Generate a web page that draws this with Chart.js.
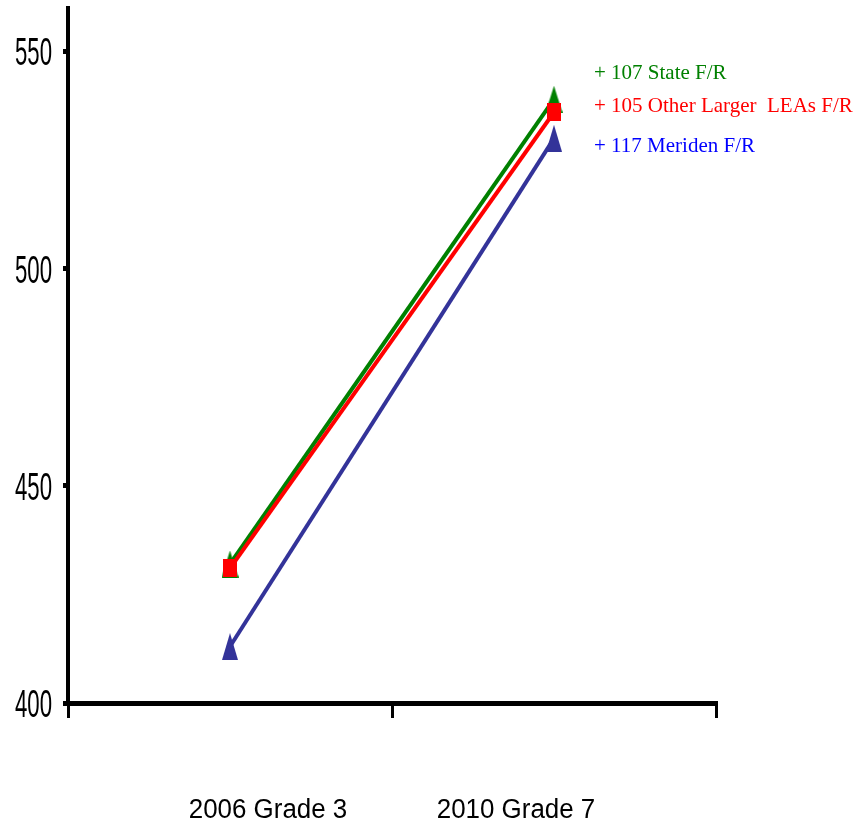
<!DOCTYPE html>
<html>
<head>
<meta charset="utf-8">
<script src="https://cdn.jsdelivr.net/npm/chart.js@4"></script>
<style>
  body { margin: 0; background: #fff; }
  #wrap { width: 857px; height: 824px; position: relative; }
</style>
</head>
<body>
<div id="wrap"><canvas id="chart"></canvas></div>
<script>
// data
var categories = ['2006 Grade 3', '2010 Grade 7'];
var stateFR = [432, 539];
var otherLEAsFR = [431, 536];
var meridenFR = [413, 530];
var yTickValues = [400, 450, 500, 550];
var notes = ['+ 107 State F/R', '+ 105 Other Larger  LEAs F/R', '+ 117 Meriden F/R'];

var GREEN = '#008000', RED = '#ff0000', NAVY = '#333399';

// marker images (the original uses tall triangles)
function makeTriangle(color, w, h) {
    var c = document.createElement('canvas');
    c.width = w; c.height = h;
    var g = c.getContext('2d');
    g.fillStyle = color;
    g.beginPath();
    g.moveTo(w / 2, 0);
    g.lineTo(w, h);
    g.lineTo(0, h);
    g.closePath();
    g.fill();
    return c;
}
function makeRect(color, w, h) {
    var c = document.createElement('canvas');
    c.width = w; c.height = h;
    var g = c.getContext('2d');
    g.fillStyle = color;
    g.fillRect(0, 0, w, h);
    return c;
}

// draws the condensed tick labels and the notes on the right
var labelPlugin = {
    id: 'labels',
    afterDraw: function(chart) {
        var ctx = chart.ctx;
        var xs = chart.scales.x, ys = chart.scales.y;
        ctx.save();
        ctx.fillStyle = '#000';
        ctx.textBaseline = 'alphabetic';

        // narrow digits: squeeze to the width seen in the original
        ctx.font = '38px "Liberation Sans Narrow", "Liberation Sans", Arial, sans-serif';
        ctx.textAlign = 'right';
        var sx = 37 / ctx.measureText('550').width;
        yTickValues.forEach(function(v) {
            var py = ys.getPixelForValue(v);
            ctx.save();
            ctx.translate(52, py + 14);
            ctx.scale(sx, 1);
            ctx.fillText(String(v), 0, 0);
            ctx.restore();
        });

        ctx.font = '27px "Liberation Sans", Arial, sans-serif';
        ctx.textAlign = 'center';
        var nudge = [38, -38];
        categories.forEach(function(c, i) {
            var px = xs.getPixelForValue(i) + nudge[i];
            ctx.save();
            ctx.translate(px, 818);
            ctx.scale(0.96, 1);
            ctx.fillText(c, 0, 0);
            ctx.restore();
        });

        ctx.font = '21px "Liberation Serif", "Times New Roman", serif';
        ctx.textAlign = 'left';
        var noteColors = [GREEN, RED, '#0000ff'];
        var noteBase = [79, 112, 152];
        var nx = xs.getPixelForValue(1) + 40;
        notes.forEach(function(t, i) {
            ctx.fillStyle = noteColors[i];
            ctx.fillText(t, nx, noteBase[i]);
        });
        ctx.restore();
    }
};

new Chart(document.getElementById('chart'), {
    type: 'line',
    data: {
        labels: categories,
        datasets: [
            {
                label: 'Meriden F/R',
                data: meridenFR,
                borderColor: NAVY,
                backgroundColor: NAVY,
                borderWidth: 4,
                pointStyle: makeTriangle(NAVY, 16, 27),
                clip: false
            },
            {
                label: 'Other Larger LEAs F/R',
                data: otherLEAsFR,
                borderColor: RED,
                backgroundColor: RED,
                borderWidth: 4,
                pointStyle: makeRect(RED, 14, 18),
                clip: false
            },
            {
                label: 'State F/R',
                data: stateFR,
                borderColor: GREEN,
                backgroundColor: GREEN,
                borderWidth: 4,
                pointStyle: makeTriangle(GREEN, 17, 27),
                clip: false
            }
        ]
    },
    options: {
        responsive: true,
        maintainAspectRatio: false,
        animation: false,
        layout: { padding: { top: 5, right: 141, left: 0, bottom: 0 } },
        plugins: { legend: { display: false }, tooltip: { enabled: false } },
        scales: {
            x: {
                offset: true,
                grid: {
                    offset: true,
                    drawOnChartArea: false,
                    tickLength: 15,
                    lineWidth: 3,
                    color: '#000'
                },
                border: { display: true, width: 5, color: '#000' },
                ticks: { display: false },
                afterFit: function(s) { s.height = 121; }
            },
            y: {
                min: 400,
                max: 560,
                ticks: { display: false, stepSize: 50 },
                afterBuildTicks: function(s) {
                    s.ticks = s.ticks.filter(function(t) { return t.value % 50 === 0; });
                },
                grid: {
                    drawOnChartArea: false,
                    tickLength: 5,
                    lineWidth: 5,
                    color: '#000'
                },
                border: { display: true, width: 4, color: '#000' },
                afterFit: function(s) { s.width = 68; }
            }
        }
    },
    plugins: [labelPlugin]
});
</script>
</body>
</html>
